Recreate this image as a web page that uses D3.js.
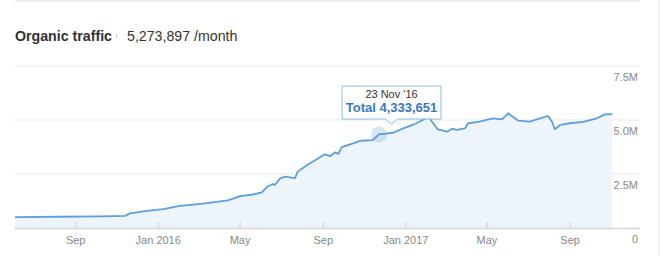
<!DOCTYPE html>
<html>
<head>
<meta charset="utf-8">
<script src="https://cdn.jsdelivr.net/npm/d3@7"></script>
<style>
  body { margin: 0; background: #fff; font-family: "Liberation Sans", Arial, sans-serif; }
  svg { display: block; }
</style>
</head>
<body>
<svg id="chart" width="660" height="256"></svg>
<script>
// traffic samples (date, monthly organic visits)
const dates = [
    '2015-06-04', '2015-08-05', '2015-10-08', '2015-11-14', '2015-11-21', '2015-12-16',
    '2016-01-09', '2016-02-03', '2016-03-08', '2016-04-14', '2016-05-02', '2016-05-19',
    '2016-06-03', '2016-06-11', '2016-06-19', '2016-06-22', '2016-06-30', '2016-07-07',
    '2016-07-22', '2016-07-26', '2016-08-09', '2016-08-23', '2016-09-04', '2016-09-12',
    '2016-09-19', '2016-09-24', '2016-09-29', '2016-10-08', '2016-10-19', '2016-10-26',
    '2016-11-14', '2016-11-23', '2016-12-14', '2016-12-29', '2017-01-12', '2017-01-27',
    '2017-02-04', '2017-02-18', '2017-03-04', '2017-03-11', '2017-03-18', '2017-03-30',
    '2017-04-04', '2017-04-21', '2017-04-28', '2017-05-11', '2017-05-24', '2017-06-02',
    '2017-06-17', '2017-07-04', '2017-07-31', '2017-08-06', '2017-08-10', '2017-08-18',
    '2017-09-01', '2017-09-21', '2017-10-11', '2017-10-23', '2017-11-03'
];
const traffic = [
    500000, 520000, 540000, 560000, 680000, 790000,
    870000, 1020000, 1130000, 1280000, 1480000, 1540000,
    1650000, 1910000, 2040000, 1990000, 2300000, 2380000,
    2310000, 2610000, 2920000, 3180000, 3410000, 3330000,
    3500000, 3430000, 3740000, 3840000, 3950000, 4040000,
    4070000, 4333651, 4410000, 4610000, 4770000, 5000000,
    5150000, 4570000, 4460000, 4600000, 4540000, 4610000,
    4850000, 4920000, 4980000, 5080000, 5030000, 5310000,
    4970000, 4920000, 5190000, 4920000, 4570000, 4770000,
    4850000, 4910000, 5080000, 5260000, 5273897
];
const yTicks = [0, 2500000, 5000000, 7500000];
const yTickLabels = ['0', '2.5M', '5.0M', '7.5M'];
const xDomain = ['2015-06-04', '2017-12-14'];
const hoverDate = '2016-11-23';

const parse = d3.timeParse('%Y-%m-%d');
const data = dates.map((d, i) => ({ date: parse(d), value: traffic[i] }));

const svg = d3.select('#chart');

const x = d3.scaleTime()
    .domain(xDomain.map(parse))
    .range([15, 640]);

const y = d3.scaleLinear()
    .domain([0, 7500000])
    .range([228, 66]);

// frame lines
svg.append('line')
    .attr('x1', 15).attr('x2', 640).attr('y1', 1).attr('y2', 1)
    .attr('stroke', '#e6e6e6').attr('stroke-width', 1.5);
svg.append('line')
    .attr('x1', 659.5).attr('x2', 659.5).attr('y1', 0).attr('y2', 256)
    .attr('stroke', '#eeeeee').attr('stroke-width', 1);

// header
svg.append('text')
    .attr('x', 15).attr('y', 41)
    .attr('font-size', 14.2).attr('font-weight', 'bold').attr('fill', '#333')
    .text('Organic traffic');
svg.append('line')
    .attr('x1', 116.5).attr('x2', 116.5).attr('y1', 34).attr('y2', 38)
    .attr('stroke', '#c8c8c8').attr('stroke-width', 1);
svg.append('text')
    .attr('x', 127).attr('y', 41)
    .attr('font-size', 14.2).attr('fill', '#333')
    .text('5,273,897 /month');

// grid lines and y labels
svg.append('g').selectAll('line')
    .data(yTicks.slice(1))
    .enter()
    .append('line')
    .attr('x1', 15).attr('x2', 640)
    .attr('y1', d => y(d)).attr('y2', d => y(d))
    .attr('stroke', '#efefef').attr('stroke-width', 1.5);

svg.append('g').selectAll('text')
    .data(yTicks)
    .enter()
    .append('text')
    .attr('x', 638)
    .attr('y', d => y(d) + 15)
    .attr('text-anchor', 'end')
    .attr('font-size', 11)
    .attr('fill', '#888')
    .text((d, i) => yTickLabels[i]);

// area + line
const area = d3.area()
    .x(d => x(d.date))
    .y0(y(0))
    .y1(d => y(d.value));

const line = d3.line()
    .x(d => x(d.date))
    .y(d => y(d.value));

svg.append('path')
    .datum(data)
    .attr('d', area)
    .attr('fill', '#edf4fc');

svg.append('path')
    .datum(data)
    .attr('d', line)
    .attr('fill', 'none')
    .attr('stroke', '#5b9fe0')
    .attr('stroke-width', 1.8)
    .attr('stroke-linejoin', 'round');

// x axis: Jan / May / Sep
const fmtTick = d => d.getMonth() === 0 ? d3.timeFormat('%b %Y')(d) : d3.timeFormat('%b')(d);
const xAxis = d3.axisBottom(x)
    .ticks(d3.timeMonth.filter(d => d.getMonth() % 4 === 0))
    .tickSize(0)
    .tickFormat(fmtTick);

let gx = svg.append('g')
    .attr('transform', `translate(0,${y(0)})`)
    .call(xAxis);
gx.select('.domain').remove();
gx.selectAll('text')
    .attr('dy', 0)
    .attr('y', 16)
    .attr('font-size', 11)
    .attr('font-family', '"Liberation Sans", Arial, sans-serif')
    .attr('fill', '#888');
gx.selectAll('.tick').append('line')
    .attr('y1', -6).attr('y2', 0)
    .attr('stroke', '#cccccc').attr('stroke-width', 1);

svg.append('line')
    .attr('x1', 15).attr('x2', 640)
    .attr('y1', y(0) + 0.5).attr('y2', y(0) + 0.5)
    .attr('stroke', '#dddddd').attr('stroke-width', 2);

// hover marker + tooltip
const hover = data.find(d => +d.date === +parse(hoverDate));
const hx = x(hover.date), hy = y(hover.value);

svg.append('circle')
    .attr('cx', hx).attr('cy', hy).attr('r', 8)
    .attr('fill', '#5b9fe0').attr('fill-opacity', 0.25);

const tipW = 99, tipH = 33;
const tipX = 342, tipY = 86;
const tipCx = tipX + tipW / 2;
let tip = svg.append('g');
tip.append('path')
    .attr('d', `M${tipX},${tipY} h${tipW} v${tipH} H${tipCx + 6} l-6,5 l-6,-5 H${tipX} Z`)
    .attr('fill', '#ffffff').attr('fill-opacity', 0.92)
    .attr('stroke', '#8cbcea').attr('stroke-width', 1);
tip.append('text')
    .attr('x', tipCx).attr('y', tipY + 11.5)
    .attr('text-anchor', 'middle')
    .attr('font-size', 11).attr('fill', '#333')
    .text(d3.timeFormat("%-d %b '%y")(hover.date));
tip.append('text')
    .attr('x', tipCx).attr('y', tipY + 26)
    .attr('text-anchor', 'middle')
    .attr('font-size', 13).attr('font-weight', 'bold').attr('fill', '#3a78c9')
    .text('Total ' + d3.format(',')(hover.value));
</script>
</body>
</html>
